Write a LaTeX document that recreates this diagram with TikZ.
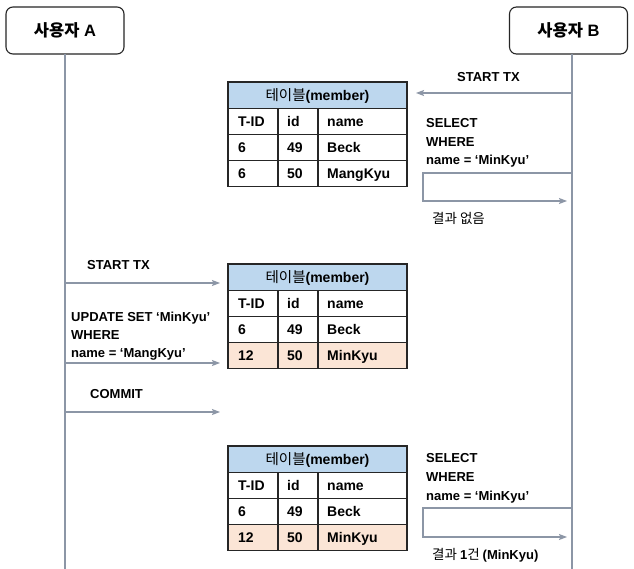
\documentclass[tikz,border=0pt]{standalone}
\usepackage{fontspec}
\setmainfont{Liberation Sans}
\newfontfamily\kr{Noto Sans CJK KR}
\usetikzlibrary{arrows.meta}
\definecolor{linegray}{HTML}{8C96A6}
\definecolor{hdrblue}{HTML}{BDD7EE}
\definecolor{peach}{HTML}{FBE5D6}
\definecolor{bordc}{HTML}{262626}
\tikzset{
  actor/.style={draw=bordc, line width=1.1pt, rounded corners=7pt, fill=white,
    minimum width=118pt, minimum height=47pt, inner sep=0pt,
    font=\fontsize{16.5}{19}\selectfont\bfseries},
  life/.style={draw=linegray, line width=1.1pt},
  msg/.style={draw=linegray, line width=1.1pt, -{Stealth[length=8pt,width=6pt,inset=1.5pt]}},
  lbl/.style={anchor=west, inner sep=0pt, text height=9.3pt, text depth=0pt,
    font=\fontsize{13}{15}\selectfont\bfseries},
  krlbl/.style={anchor=west, inner sep=0pt, text height=9.3pt, text depth=0pt,
    font=\fontsize{13.5}{15}\selectfont\kr},
  cell/.style={anchor=west, inner sep=0pt, text height=10pt, text depth=0pt,
    font=\fontsize{14}{16}\selectfont\bfseries},
  hdr/.style={inner sep=0pt, text height=10pt, text depth=0pt,
    font=\fontsize{14}{16}\selectfont\bfseries},
  tbl/.style={draw=bordc, line width=1.5pt},
  tblin/.style={draw=bordc, line width=1.2pt},
}
% #1 name, #2 top y, #3 last TID, #4 last name, #5 last row fill
\newcommand\memtable[5]{%
  \begin{scope}[shift={(0,#2)}]
    \fill[hdrblue] (228,0) rectangle (407,26.5);
    \fill[#5] (228,78.5) rectangle (407,104.5);
    \draw[tblin] (228,26.5) -- (407,26.5) (228,52.5) -- (407,52.5) (228,78.5) -- (407,78.5);
    \draw[tblin] (278,26.5) -- (278,104.5) (318,26.5) -- (318,104.5);
    \draw[tbl] (228,0) rectangle (407,104.5);
    \node[hdr] (#1h) at (317.5,13.5) {{\mdseries\kr\fontsize{14.5}{16}\selectfont 테이블}(member)};
    \node[cell] (#1c11) at (238,39.5) {T-ID};
    \node[cell] (#1c12) at (287,39.5) {id};
    \node[cell] (#1c13) at (327,39.5) {name};
    \node[cell] (#1c21) at (238,65.5) {6};
    \node[cell] (#1c22) at (287,65.5) {49};
    \node[cell] (#1c23) at (327,65.5) {Beck};
    \node[cell] (#1c31) at (238,91.5) {#3};
    \node[cell] (#1c32) at (287,91.5) {50};
    \node[cell] (#1c33) at (327,91.5) {#4};
  \end{scope}}
\begin{document}
\begin{tikzpicture}[x=1pt,y=-1pt]
\useasboundingbox[fill=white] (0,0) rectangle (634,569);

% actors
\node[actor] (A) at (65,30.5) {{\kr 사용자} A};
\node[actor] (B) at (568.5,30.5) {{\kr 사용자} B};
\coordinate (Aend) at (65,569);
\coordinate (Bend) at (572,569);
\draw[life] (65,54) -- (Aend);
\draw[life] (572,54) -- (Bend);

% tables
\memtable{t1}{82}{6}{MangKyu}{white}
\memtable{t2}{264}{12}{MinKyu}{peach}
\memtable{t3}{446}{12}{MinKyu}{peach}

% --- user B, first transaction
\node[lbl] (bstart) at (457,77) {START TX};
\coordinate (b1s) at (572,93);
\coordinate (b1e) at (416,93);
\draw[msg] (b1s) -- (b1e);

\node[lbl] (bsel1) at (426,123) {SELECT};
\node[lbl] (bwh1) at (426,141.5) {WHERE};
\node[lbl] (bnm1) at (426,160) {name = ‘MinKyu’};
\coordinate (r1a) at (572,173);
\coordinate (r1b) at (423,173);
\coordinate (r1c) at (423,201);
\coordinate (r1d) at (567,201);
\draw[msg] (r1a) -- (r1b) -- (r1c) -- (r1d);
\node[krlbl] (res1) at (432,219) {결과 없음};

% --- user A
\node[lbl] (astart) at (87,265) {START TX};
\coordinate (a1s) at (65,283);
\coordinate (a1e) at (220,283);
\draw[msg] (a1s) -- (a1e);

\node[lbl] (aup) at (71,316.5) {UPDATE SET ‘MinKyu’};
\node[lbl] (awh) at (71,335) {WHERE};
\node[lbl] (anm) at (71,353) {name = ‘MangKyu’};
\coordinate (a2s) at (65,363);
\coordinate (a2e) at (220,363);
\draw[msg] (a2s) -- (a2e);

\node[lbl] (acommit) at (90,394) {COMMIT};
\coordinate (a3s) at (65,412);
\coordinate (a3e) at (220,412);
\draw[msg] (a3s) -- (a3e);

% --- user B, second select
\node[lbl] (bsel2) at (426,458) {SELECT};
\node[lbl] (bwh2) at (426,477) {WHERE};
\node[lbl] (bnm2) at (426,495.5) {name = ‘MinKyu’};
\coordinate (r2a) at (572,508);
\coordinate (r2b) at (423,508);
\coordinate (r2c) at (423,537);
\coordinate (r2d) at (567,537);
\draw[msg] (r2a) -- (r2b) -- (r2c) -- (r2d);
\node[krlbl] (res2) at (432,555) {결과 {\fontsize{13}{15}\selectfont\bfseries\rmfamily 1}건 {\fontsize{13}{15}\selectfont\bfseries\rmfamily (MinKyu)}};
\end{tikzpicture}
\end{document}
